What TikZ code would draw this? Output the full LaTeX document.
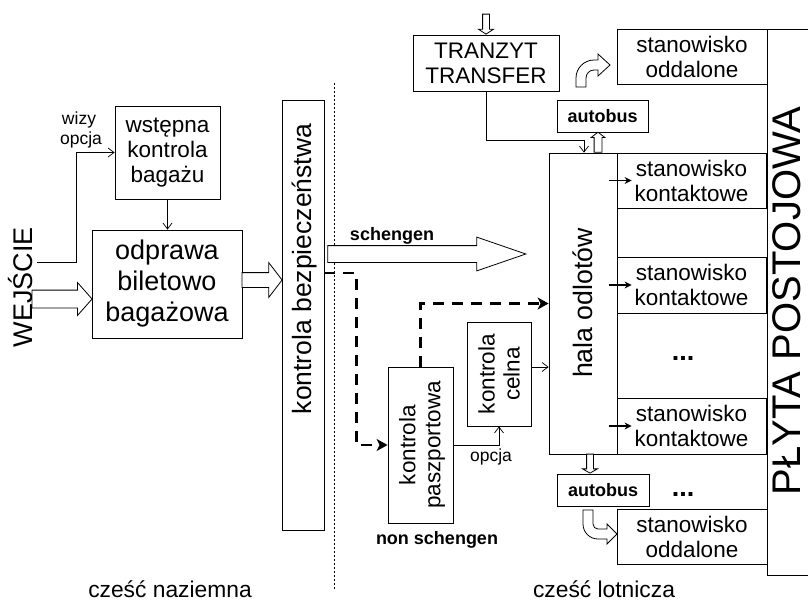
\documentclass[tikz,border=0pt]{standalone}
\usepackage{fontspec}
\setmainfont{Liberation Sans}
\usetikzlibrary{calc,arrows.meta,shapes.arrows}
\newcommand{\fsz}[2]{\fontsize{#1}{#2}\selectfont}

\begin{document}
\begin{tikzpicture}[x=1pt, y=-1pt, line width=0.8pt,
    box/.style={draw, inner sep=0pt, align=center, font=\fsz{22.5}{25}},
    vtext/.style={rotate=90, align=center, font=\fsz{22.5}{25}},
    thinarrow/.style={-{Straight Barb[length=6pt,width=9pt]}, line width=0.7pt},
    gatearrow/.style={-{Stealth[length=7pt,width=7pt]}, line width=1.5pt},
    dashroute/.style={line width=2.6pt, dash pattern=on 11pt off 8pt, -{Stealth[length=11pt,width=12pt,inset=3pt]}},
    hollow/.style={single arrow, draw, fill=white, inner xsep=0pt, single arrow head indent=0pt},
    vhollow/.style={single arrow, draw, fill=white, inner ysep=0pt, single arrow head indent=0pt},
    tag/.style={font=\fsz{17.5}{20}},
    boldtag/.style={font=\bfseries\fsz{18}{20}}]
    \useasboundingbox (0,0) rectangle (808,603);

    % Landside
    \node[rotate=90, anchor=base, font=\fsz{27}{30}] (wejscie) at (32,287) {WEJŚCIE};
    \node[box, minimum width=105pt, minimum height=93pt] (wstepna) at (167.5,152.5) {wstępna\\kontrola\\bagażu};
    \node[box, minimum width=150pt, minimum height=108pt, font=\fsz{27}{31}] (odprawa) at (167,284) {odprawa\\biletowo\\bagażowa};
    \node[tag, anchor=base] (wizy) at (79,124) {wizy};
    \node[tag, anchor=base] (opcjaa) at (81,144) {opcja};
    \coordinate (wbend) at (76,262);
    \draw[thinarrow] (37,262) -- (wbend) |- (wstepna.west);
    \draw[thinarrow] (wstepna.south) -- (wstepna.south |- odprawa.north);
    \node[hollow, minimum height=60pt, inner ysep=8.5pt, single arrow head extend=7.5pt,
        single arrow tip angle=97, anchor=tip] (inarrow) at ($(odprawa.west)+(1,15)$) {};

    % Security
    \node[box, minimum width=42pt, minimum height=430pt] (bezp) at (303,315) {};
    \node[rotate=90, anchor=base, font=\fsz{26.5}{30}] (bezptext) at (311,269) {kontrola bezpieczeństwa};
    \node[hollow, minimum height=40pt, inner ysep=7pt, single arrow head extend=10pt,
        single arrow tip angle=105, anchor=tip] (outarrow) at ($(bezp.west)+(1,-35)$) {};
    \draw[line width=0.7pt, dash pattern=on 2pt off 2pt] (334,83) -- (334,590);

    % Airside
    \node[box, minimum width=68pt, minimum height=301pt] (hala) at (583,303.5) {};
    \node[rotate=90, anchor=base, font=\fsz{26.7}{30}] (halatext) at (592,303) {hala odlotów};
    \node[box, minimum width=65pt, minimum height=156pt] (pasz) at (420.5,445) {};
    \node[vtext] (pasztext) at (422,445) {kontrola\\paszportowa};
    \node[box, minimum width=64pt, minimum height=104pt] (celna) at (499,374) {};
    \node[vtext] (celnatext) at (499,374) {kontrola\\celna};
    \node[hollow, minimum height=198pt, inner ysep=8pt, single arrow head extend=8.5pt,
        single arrow tip angle=38, anchor=tail] (schengen) at ($(bezp.east)+(3,-61)$) {};
    \node[boldtag, anchor=base] (schengentext) at (392,240) {schengen};
    \node[boldtag, anchor=base] (nonschengen) at (437,544) {non schengen};
    \draw[dashroute] ([yshift=42pt]bezp.east) -- ++(32,0) |- (pasz.west);
    \draw[dashroute] (pasz.north) |- (hala.west);
    \draw[thinarrow] ([yshift=7pt]celna.east) -- ([yshift=7pt]celna.east -| hala.west);
    \draw[thinarrow] (pasz.east) -| (celna.south);
    \node[tag, anchor=base] (opcjab) at (491,461) {opcja};

    % Gates
    \foreach \name/\ya/\yb in {konta/153/208, kontb/257/313, kontc/398/454} {
        \node[box, minimum width=149pt, minimum height=\yb-\ya] (\name) at (691.5,{(\ya+\yb)/2}) {stanowisko\\kontaktowe};
        \draw[gatearrow] (\name.west) ++(-8,0) -- ++(23,0);
    }
    \node[font=\bfseries\fsz{27}{30}, anchor=base] (dotsa) at (683,360) {...};
    \node[font=\bfseries\fsz{27}{30}, anchor=base] (dotsb) at (683,496) {...};
    \node[box, minimum width=150pt, minimum height=55pt] (oddalonea) at (692,56.5) {stanowisko\\oddalone};
    \node[box, minimum width=150pt, minimum height=55pt] (oddaloneb) at (692,536.5) {stanowisko\\oddalone};
    \draw (767,29) -- (815,29) (767,29) -- (767,575) -- (815,575);
    \node[rotate=90, anchor=base, font=\fsz{40}{44}] (plyta) at (800,301) {PŁYTA POSTOJOWA};

    % Transfer and buses
    \node[box, minimum width=146pt, minimum height=56pt] (tranzyt) at (486,63) {TRANZYT\\TRANSFER};
    \node[vhollow, minimum height=20pt, inner xsep=3pt, single arrow head extend=4pt,
        single arrow tip angle=114, shape border rotate=270, anchor=tip] (tranzytin) at (tranzyt.north) {};
    \node[box, minimum width=91pt, minimum height=32pt, font=\bfseries\fsz{18}{20}] (autobusa) at (602.5,116) {autobus};
    \node[box, minimum width=92pt, minimum height=32pt, font=\bfseries\fsz{18}{20}] (autobusb) at (603,490) {autobus};
    \coordinate (tbend) at (584,140);
    \draw[thinarrow] (tranzyt.south) |- (tbend) -- (tbend |- hala.north);
    \node[vhollow, minimum height=20pt, inner xsep=3.5pt, single arrow head extend=3pt,
        single arrow tip angle=105, shape border rotate=90, anchor=tail] (busup) at ($(hala.north)+(15,0)$) {};
    \node[vhollow, minimum height=19pt, inner xsep=3pt, single arrow head extend=4pt,
        single arrow tip angle=120, shape border rotate=270, anchor=tip] (busdown) at ($(autobusb.north)+(-13,0)$) {};
    \draw[fill=white] (576,87) -- (576,78) .. controls (576,68.06) and (584.06,60) .. (594,60)
        -- (598,60) -- (598,54) -- (610,65) -- (598,76) -- (598,70) -- (594,70)
        .. controls (589.58,70) and (586,73.58) .. (586,78) -- (586,87) -- cycle;
    \draw[fill=white] (583,510) -- (583,524) .. controls (583,532.28) and (589.72,539) .. (598,539)
        -- (607,539) -- (607,544) -- (617,534) -- (607,524) -- (607,529) -- (598,529)
        .. controls (595.24,529) and (593,526.76) .. (593,524) -- (593,510) -- cycle;

    % Captions
    \node[font=\fsz{22.8}{25}, anchor=base] (naziemna) at (170,597) {cześć naziemna};
    \node[font=\fsz{22.8}{25}, anchor=base] (lotnicza) at (604,597) {cześć lotnicza};
\end{tikzpicture}
\end{document}
